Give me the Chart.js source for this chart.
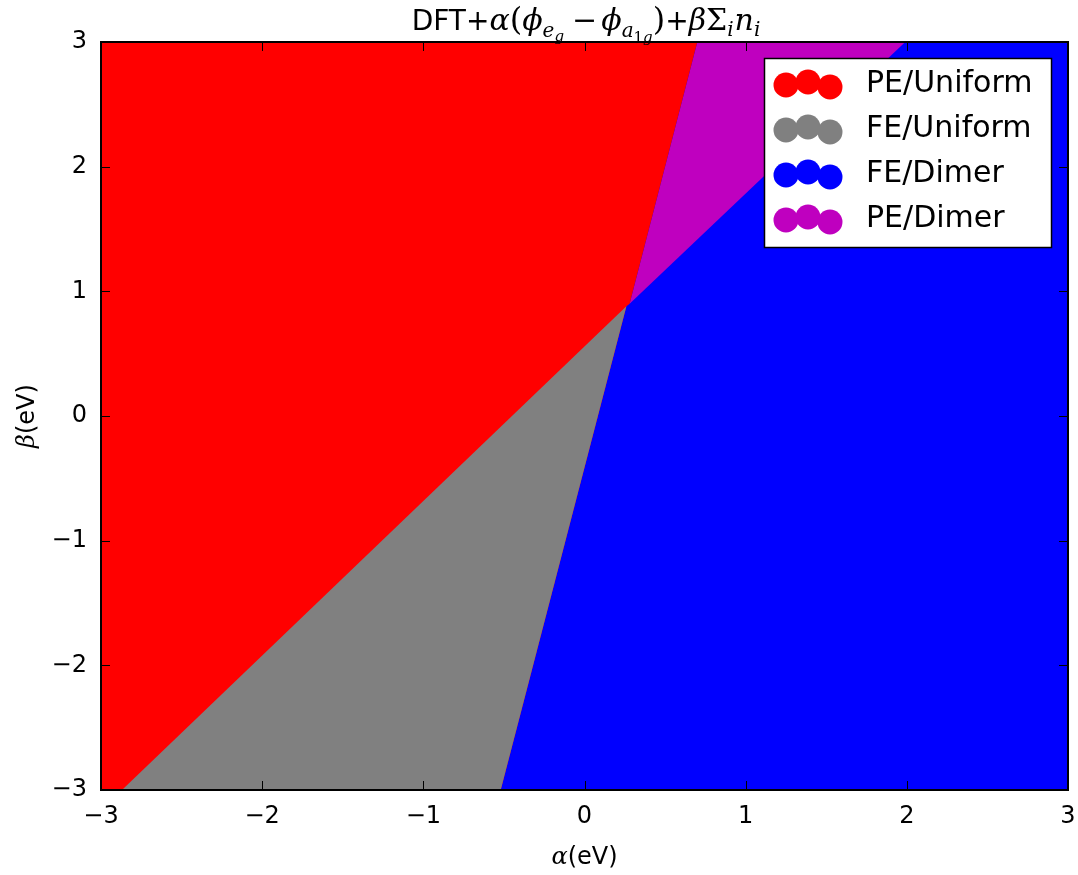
<!DOCTYPE html>
<html>
<head>
<meta charset="utf-8">
<title>Phase diagram</title>
<script src="https://cdn.jsdelivr.net/npm/chart.js@4.4.1/dist/chart.umd.min.js"></script>
<style>
  html, body { margin: 0; padding: 0; background: #ffffff; }
  #wrap { position: relative; width: 1078px; height: 875px; }
</style>
</head>
<body>
<div id="wrap"><canvas id="phase"></canvas></div>
<script>
// Axis ranges and tick values (eV)
const alphaTicks = [-3, -2, -1, 0, 1, 2, 3];
const betaTicks = [-3, -2, -1, 0, 1, 2, 3];

// Phase boundaries, each as [alpha, beta] end points
const boundaryPEtoFEUniform = { alpha: [-2.87, 0.26], beta: [-3, 0.88] };   // red | gray
const boundaryFEUniformToDimer = { alpha: [-0.52, 0.26], beta: [-3, 0.88] }; // gray | blue
const boundaryPEUniformToDimer = { alpha: [0.28, 0.70], beta: [0.90, 3] };   // red | magenta
const boundaryPEtoFEDimer = { alpha: [0.28, 1.99], beta: [0.90, 3] };        // magenta | blue

// Phase names and colours
const phaseNames = ['PE/Uniform', 'FE/Uniform', 'FE/Dimer', 'PE/Dimer'];
const phaseColors = ['#ff0000', '#808080', '#0000ff', '#bf00bf'];

const aMin = alphaTicks[0], aMax = alphaTicks[alphaTicks.length - 1];
const bMin = betaTicks[0], bMax = betaTicks[betaTicks.length - 1];

function pts(alphas, betas) {
  return alphas.map((a, i) => ({ x: a, y: betas[i] }));
}

// Region outlines built from the boundaries
const peUniform = pts(
  [aMin, boundaryFEUniformToDimer.alpha[0], boundaryFEUniformToDimer.alpha[1],
   boundaryPEUniformToDimer.alpha[0], boundaryPEUniformToDimer.alpha[1], aMin],
  [bMin, boundaryFEUniformToDimer.beta[0], boundaryFEUniformToDimer.beta[1],
   boundaryPEUniformToDimer.beta[0], boundaryPEUniformToDimer.beta[1], bMax]);
const feUniform = pts(
  [boundaryPEtoFEUniform.alpha[0], boundaryFEUniformToDimer.alpha[0], boundaryPEtoFEUniform.alpha[1]],
  [boundaryPEtoFEUniform.beta[0], boundaryFEUniformToDimer.beta[0], boundaryPEtoFEUniform.beta[1]]);
const feDimer = pts([aMin, aMax, aMax, aMin], [bMin, bMin, bMax, bMax]);
const peDimer = pts(
  [boundaryPEUniformToDimer.alpha[0], boundaryPEUniformToDimer.alpha[1], boundaryPEtoFEDimer.alpha[1]],
  [boundaryPEUniformToDimer.beta[0], boundaryPEUniformToDimer.beta[1], boundaryPEtoFEDimer.beta[1]]);

const regions = [peUniform, feUniform, feDimer, peDimer];
const drawOrder = [1, 0, 3, 2]; // lower is painted on top

const minus = v => (v < 0 ? '\u2212' + Math.abs(v) : String(v));

// Frame, inward ticks, title, axis labels and legend
const decorations = {
  id: 'decorations',
  afterDraw(chart) {
    const ctx = chart.ctx;
    const area = chart.chartArea;
    const xs = chart.scales.x, ys = chart.scales.y;
    ctx.save();

    // inward tick marks on all four sides
    ctx.strokeStyle = '#000';
    ctx.lineWidth = 1;
    const tl = 9;
    alphaTicks.forEach(v => {
      const px = Math.round(xs.getPixelForValue(v)) + 0.5;
      ctx.beginPath();
      ctx.moveTo(px, area.bottom); ctx.lineTo(px, area.bottom - tl);
      ctx.moveTo(px, area.top); ctx.lineTo(px, area.top + tl);
      ctx.stroke();
    });
    betaTicks.forEach(v => {
      const py = Math.round(ys.getPixelForValue(v)) + 0.5;
      ctx.beginPath();
      ctx.moveTo(area.left, py); ctx.lineTo(area.left + tl, py);
      ctx.moveTo(area.right, py); ctx.lineTo(area.right - tl, py);
      ctx.stroke();
    });

    // frame
    ctx.lineWidth = 2;
    ctx.strokeStyle = '#000';
    ctx.strokeRect(area.left, area.top, area.right - area.left, area.bottom - area.top);

    // title with sub- and sub-sub-scripts
    const S = 28, M = 34;
    const sans = s => `${s}px "DejaVu Sans"`;
    const mi = s => `italic ${s}px "DejaVu Serif"`;
    const mr = s => `${s}px "DejaVu Serif"`;
    const s1 = Math.round(M * 0.68), s2 = Math.round(M * 0.5);
    const parts = [
      ['DFT+', sans(S), 0, 0],
      ['\u03b1', mi(M - 4), 0, 0],
      ['(', mr(M - 2), 0, 0],
      ['\u03d5', mi(M - 4), 0, 0],
      ['e', mi(s1 - 3), 7, 0],
      ['g', mi(s2 - 2), 11, 8],
      ['\u2212', mr(M - 4), 0, 4],
      ['\u03d5', mi(M - 4), 0, 0],
      ['a', mi(s1 - 3), 7, 0],
      ['1', mr(s2 - 2), 12, 0],
      ['g', mi(s2 - 2), 12, 0],
      [')', mr(M - 2), 0, 0],
      ['+', sans(S), 0, 0],
      ['\u03b2', mi(M - 4), 0, 0],
      ['\u03a3', mr(M - 4), 0, 0],
      ['i', mi(s1 - 3), 6, 1],
      ['n', mi(M - 4), 0, 0],
      ['i', mi(s1 - 3), 6, 0]
    ];
    let total = 0;
    parts.forEach(p => { ctx.font = p[1]; p.push(ctx.measureText(p[0]).width); total += p[4] + p[3]; });
    let x = 586 - total / 2;
    const base = 30;
    ctx.fillStyle = '#000';
    ctx.textBaseline = 'alphabetic';
    ctx.textAlign = 'left';
    parts.forEach(p => {
      ctx.font = p[1];
      ctx.fillText(p[0], x, base + p[2]);
      x += p[4] + p[3];
    });

    // x-axis label: alpha(eV)
    const L = 24;
    const cx = (area.left + area.right) / 2;
    ctx.font = mi(L);
    const wa = ctx.measureText('\u03b1').width;
    ctx.font = sans(L);
    const we = ctx.measureText('(eV)').width;
    let lx = cx - (wa + we) / 2;
    ctx.font = mi(L); ctx.fillText('\u03b1', lx, 864);
    ctx.font = sans(L); ctx.fillText('(eV)', lx + wa, 864);

    // y-axis label: beta(eV), rotated
    ctx.save();
    ctx.translate(34, (area.top + area.bottom) / 2);
    ctx.rotate(-Math.PI / 2);
    ctx.font = mi(L);
    const wb = ctx.measureText('\u03b2').width;
    lx = -(wb + we) / 2;
    ctx.fillText('\u03b2', lx, 0);
    ctx.font = sans(L); ctx.fillText('(eV)', lx + wb, 0);
    ctx.restore();

    // legend
    const bx = 764.5, by = 58.5, bw = 287, bh = 189;
    ctx.fillStyle = '#ffffff';
    ctx.fillRect(bx, by, bw, bh);
    ctx.lineWidth = 1.5;
    ctx.strokeStyle = '#000';
    ctx.strokeRect(bx, by, bw, bh);
    const offs = [1, -2, 3];
    const cxs = [786, 808, 830];
    phaseNames.forEach((name, i) => {
      const ry = 84 + i * 45;
      ctx.fillStyle = phaseColors[i];
      cxs.forEach((c, k) => {
        ctx.beginPath();
        ctx.arc(c, ry + offs[k], 12.5, 0, Math.PI * 2);
        ctx.fill();
      });
      ctx.fillStyle = '#000';
      ctx.font = sans(30);
      ctx.textBaseline = 'middle';
      ctx.fillText(name, 866, ry);
    });
    ctx.restore();
  }
};

new Chart(document.getElementById('phase'), {
  type: 'line',
  data: {
    datasets: regions.map((r, i) => ({
      label: phaseNames[i],
      data: r,
      backgroundColor: phaseColors[i],
      borderColor: phaseColors[i],
      borderWidth: 0,
      pointRadius: 0,
      tension: 0,
      fill: 'shape',
      order: drawOrder[i]
    }))
  },
  options: {
    responsive: true,
    maintainAspectRatio: false,
    animation: false,
    events: [],
    layout: { padding: { top: 42, right: 10, bottom: 0, left: 0 } },
    plugins: {
      legend: { display: false },
      title: { display: false },
      tooltip: { enabled: false }
    },
    scales: {
      x: {
        type: 'linear',
        min: aMin,
        max: aMax,
        afterBuildTicks: s => { s.ticks = alphaTicks.map(v => ({ value: v })); },
        afterFit: s => { s.height = 85; s.paddingLeft = 0; s.paddingRight = 0; },
        grid: { display: false, drawTicks: false },
        border: { display: false },
        ticks: {
          color: '#000',
          font: { family: 'DejaVu Sans', size: 24 },
          padding: 12,
          maxRotation: 0,
          autoSkip: false,
          callback: v => minus(v)
        }
      },
      y: {
        type: 'linear',
        min: bMin,
        max: bMax,
        afterBuildTicks: s => { s.ticks = betaTicks.map(v => ({ value: v })); },
        afterFit: s => { s.width = 101; s.paddingTop = 0; s.paddingBottom = 0; },
        grid: { display: false, drawTicks: false },
        border: { display: false },
        ticks: {
          color: '#000',
          font: { family: 'DejaVu Sans', size: 24 },
          padding: 14,
          autoSkip: false,
          callback: v => minus(v)
        }
      }
    }
  },
  plugins: [decorations]
});
</script>
</body>
</html>
